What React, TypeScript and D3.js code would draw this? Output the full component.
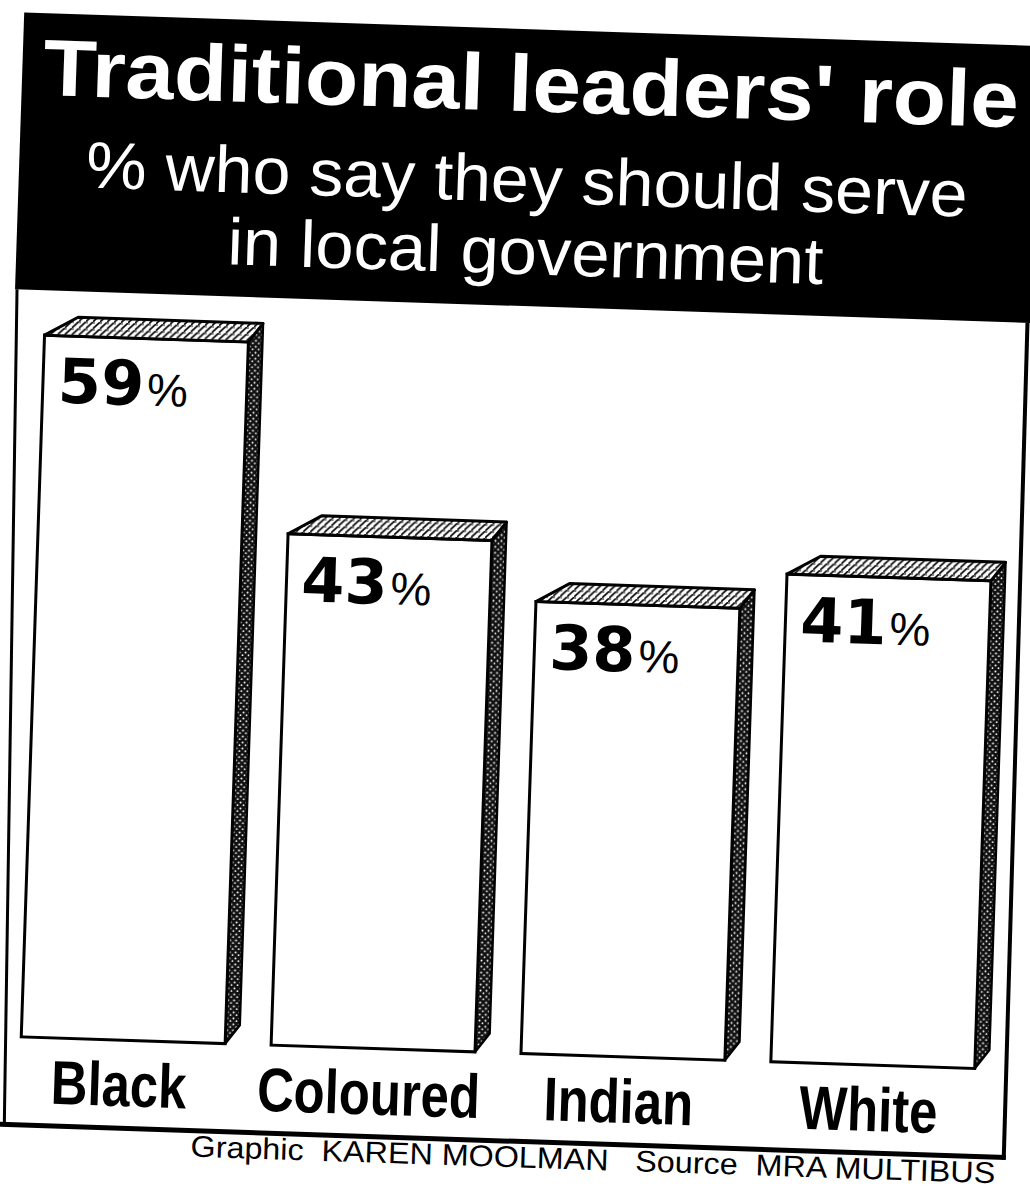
import React from "react";
import * as d3 from "d3";

const categories = ["Black", "Coloured", "Indian", "White"];
const values = [59, 43, 38, 41];
const valueSuffix = "%";
const titleText = "Traditional leaders' role";
const subtitleLines = ["% who say they should serve", "in local government"];
const creditText = "Graphic  KAREN MOOLMAN   Source  MRA MULTIBUS";

const W = 1030;
const H = 1192;
const BASE = 1053;
const PX_PER_UNIT = 11.9;

export default function App() {
  const x = d3
    .scaleBand<string>()
    .domain(categories)
    .range([13, 1013])
    .paddingInner(0.184)
    .paddingOuter(0.092);
  const y = d3
    .scaleLinear()
    .domain([0, 60])
    .range([BASE, BASE - 60 * PX_PER_UNIT]);
  const bw = x.bandwidth();
  const dxL = 33;
  const dxR = 14;
  const dy = -19;
  const sans = "'Liberation Sans', Arial, Helvetica, sans-serif";

  return (
    <svg
      width={W}
      height={H}
      viewBox={`0 0 ${W} ${H}`}
      style={{ position: "absolute", left: 0, top: 0, background: "#fff" }}
    >
      <defs>
        <pattern id="hatch" width="7" height="7" patternUnits="userSpaceOnUse">
          <rect width="7" height="7" fill="#fff" />
          <path d="M0,7 L7,0" stroke="#000" strokeWidth="1.6" />
          <path d="M0,1 L2,1" stroke="#000" strokeWidth="1.2" />
        </pattern>
        <pattern id="stipple" width="6" height="6" patternUnits="userSpaceOnUse">
          <rect width="6" height="6" fill="#111" />
          <circle cx="1.5" cy="1.5" r="1" fill="#fff" />
          <circle cx="4.5" cy="4.2" r="0.9" fill="#fff" />
        </pattern>
      </defs>
      <g transform="rotate(1.9 515 600)">
        {/* header */}
        <rect x={5} y={29} width={1100} height={277} fill="#000" />
        <text
          x={514}
          y={111}
          textAnchor="middle"
          fill="#fff"
          fontFamily={sans}
          fontWeight="bold"
          fontSize={80}
          textLength={976}
          lengthAdjust="spacingAndGlyphs"
        >
          {titleText}
        </text>
        <text
          x={513}
          y={202}
          textAnchor="middle"
          fill="#fff"
          fontFamily={sans}
          fontSize={66}
          textLength={882}
          lengthAdjust="spacingAndGlyphs"
        >
          {subtitleLines[0]}
        </text>
        <text
          x={514}
          y={274}
          textAnchor="middle"
          fill="#fff"
          fontFamily={sans}
          fontSize={66}
          textLength={596}
          lengthAdjust="spacingAndGlyphs"
        >
          {subtitleLines[1]}
        </text>

        {/* frame */}
        <line x1={7} y1={306} x2={22} y2={1142} stroke="#000" strokeWidth={3} />
        <line x1={1018} y1={306} x2={1022} y2={1143} stroke="#000" strokeWidth={4} />
        <line x1={-20} y1={1141} x2={1024} y2={1141} stroke="#000" strokeWidth={5} />

        {/* bars */}
        {categories.map((c, i) => {
          const x0 = x(c) as number;
          const x1 = x0 + bw;
          const yT = y(values[i]);
          const yB = y(0);
          const top = `${x0},${yT} ${x0 + dxL},${yT + dy} ${x1 + dxR},${yT + dy} ${x1},${yT}`;
          const side = `${x1},${yT} ${x1 + dxR},${yT + dy} ${x1 + dxR},${yB + dy} ${x1},${yB}`;
          return (
            <g key={c}>
              <polygon points={side} fill="url(#stipple)" stroke="#000" strokeWidth={2.5} strokeLinejoin="round" />
              <rect x={x0} y={yT} width={bw} height={yB - yT} fill="#fff" stroke="#000" strokeWidth={3} />
              <polygon points={top} fill="url(#hatch)" stroke="#000" strokeWidth={3} strokeLinejoin="round" />
              <text
                x={x0 + 15}
                y={yT + 67}
                fontFamily="'DejaVu Sans', Verdana, sans-serif"
                fontWeight="bold"
                fontSize={62}
                fill="#000"
              >
                {values[i]}
                <tspan fontFamily={sans} fontWeight="normal" fontSize={46} dx={3}>
                  {valueSuffix}
                </tspan>
              </text>
              <text
                transform={`translate(${x0 + bw / 2 - 3},1119) scale(0.82,1)`}
                textAnchor="middle"
                fontFamily={sans}
                fontWeight="bold"
                fontSize={62}
                fill="#000"
              >
                {c}
              </text>
            </g>
          );
        })}

        {/* credit */}
        <text
          x={209}
          y={1167}
          fontFamily={sans}
          fontSize={30}
          fill="#000"
          textLength={805}
          lengthAdjust="spacingAndGlyphs"
          style={{ whiteSpace: "pre" }}
        >
          {creditText}
        </text>
      </g>
    </svg>
  );
}
